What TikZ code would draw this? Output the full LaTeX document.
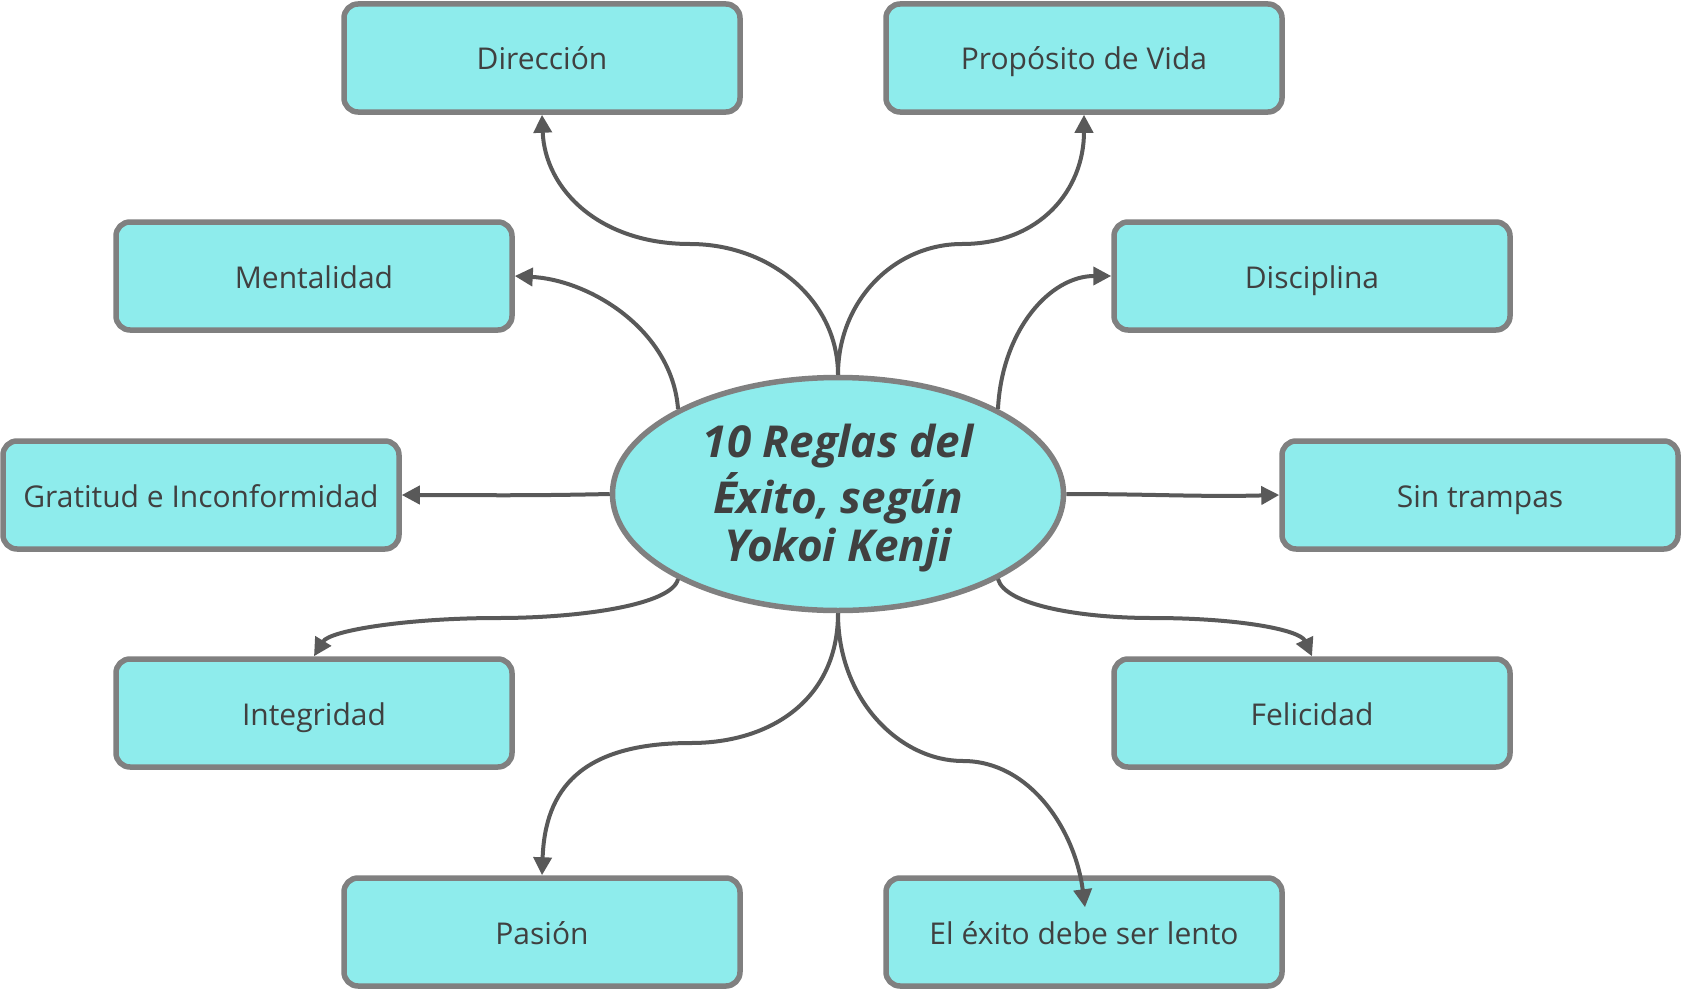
\documentclass[tikz,border=0pt]{standalone}
\usepackage{fontspec}
\setmainfont{Open Sans}
\usetikzlibrary{arrows.meta,shapes.geometric,calc}
\definecolor{fillc}{HTML}{8EECEC}
\definecolor{bordc}{HTML}{808080}
\definecolor{linec}{HTML}{595959}
\definecolor{textc}{HTML}{404040}
\begin{document}
\begin{tikzpicture}[x=1pt,y=-1pt,
 topic/.style={draw=bordc,line width=5.5pt,fill=fillc,rounded corners=14pt,minimum width=396pt,minimum height=108pt,inner sep=0pt,text height=26pt,text depth=2pt,font=\fontsize{30}{35}\selectfont,text=textc},
 central/.style={ellipse,draw=bordc,line width=5.5pt,fill=fillc,minimum width=451pt,minimum height=233pt,inner sep=0pt,text=textc,font=\fontsize{44}{48.5}\selectfont\bfseries\itshape},
 link/.style={draw=linec,line width=4pt,-{Triangle[length=18pt,width=18pt]}}]
\useasboundingbox (0,0) rectangle (1681,990);
\node[central] (c) at (838,494) {\raisebox{-6pt}[\height][\depth]{\begin{tabular}{@{}c@{}}10 Reglas del\\Éxito, según\\Yokoi Kenji\end{tabular}}};
\node[topic] (n1) at (542,58) {Dirección};
\node[topic] (n2) at (1084,58) {Propósito de Vida};
\node[topic] (n3) at (314,276) {Mentalidad};
\node[topic] (n4) at (1312,276) {Disciplina};
\node[topic] (n5) at (201,495) {Gratitud e Inconformidad};
\node[topic] (n6) at (1480,495) {Sin trampas};
\node[topic] (n7) at (314,713) {Integridad};
\node[topic] (n8) at (1312,713) {Felicidad};
\node[topic] (n9) at (542,932) {Pasión};
\node[topic] (n10) at (1084,932) {El éxito debe ser lento};
\coordinate (e10) at ($(n10.north)+(1,32)$);
\draw[link] (c.north) .. controls (838,300) and (770,244) .. (690,244) .. controls (600,244) and (545,190) .. (n1.south);
\draw[link] (c.north) .. controls (838,300) and (895,244) .. (962,244) .. controls (1040,244) and (1084,190) .. (n2.south);
\draw[link] (c.152) .. controls (672,330) and (590,280) .. (n3.east);
\draw[link] (c.28) .. controls (1002,330) and (1050,276) .. (n4.west);
\draw[link] (c.west) .. controls (520,496) and (480,495) .. (n5.east);
\draw[link] (c.east) .. controls (1150,494) and (1200,497) .. (n6.west);
\draw[link] (c.208) .. controls (672,605) and (580,618) .. (498,618) .. controls (410,618) and (330,630) .. (n7.north);
\draw[link] (c.332) .. controls (1005,605) and (1080,618) .. (1152,618) .. controls (1240,618) and (1300,630) .. (n8.north);
\draw[link] (c.south) .. controls (838,700) and (770,743) .. (691,743) .. controls (580,743) and (545,790) .. (n9.north);
\draw[link] (c.south) .. controls (838,700) and (900,761) .. (963,761) .. controls (1030,761) and (1075,830) .. (e10);
\end{tikzpicture}
\end{document}
